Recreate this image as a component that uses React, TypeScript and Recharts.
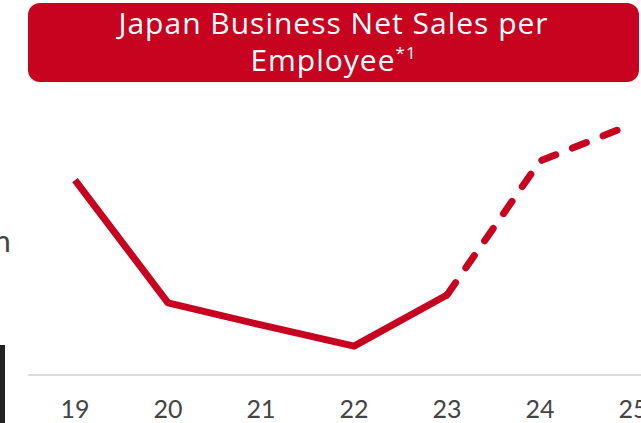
import { LineChart, Line, XAxis, YAxis } from 'recharts';

const years = ['19', '20', '21', '22', '23', '24', '25'];
const actual = [70.9, 26.2, 18.2, 10.5, 29.1, null, null];
const forecast = [null, null, null, null, 29.1, 77.8, 91.3];

const RED = '#c8031f';

const data = years.map((year, i) => ({ year, actual: actual[i], forecast: forecast[i] }));

export default function App() {
  return (
    <div style={{ position: 'fixed', left: 0, top: 0, width: 641, height: 423, background: '#fff', overflow: 'hidden' }}>
      <LineChart width={641} height={423} data={data} margin={{ top: 100, right: 0, bottom: 0, left: 28 }}>
        <XAxis
          dataKey="year"
          height={48}
          padding={{ left: 47, right: 8 }}
          axisLine={{ stroke: '#dcdcdc', strokeWidth: 2 }}
          tickLine={false}
          tickSize={0}
          tickMargin={25}
          tick={{ fill: '#444', fontSize: 25, fontFamily: 'Lato' }}
          interval={0}
        />
        <YAxis hide domain={[0, 100]} />
        <Line
          dataKey="actual"
          stroke={RED}
          strokeWidth={7}
          dot={false}
          strokeLinejoin="round"
          isAnimationActive={false}
        />
        <Line
          dataKey="forecast"
          stroke={RED}
          strokeWidth={7}
          strokeDasharray="15 18"
          strokeLinecap="round"
          strokeLinejoin="round"
          dot={false}
          isAnimationActive={false}
        />
      </LineChart>
      <div
        style={{
          position: 'absolute', left: 28, top: 3, width: 611, height: 79,
          background: RED, borderRadius: 12, color: '#fff', fontFamily: 'Open Sans',
          fontSize: 30, lineHeight: '37px', textAlign: 'center', paddingTop: 1, boxSizing: 'border-box',
          letterSpacing: 1,
        }}
      >
        Japan Business Net Sales per<br />Employee<sup style={{ fontSize: 17, verticalAlign: 'top', lineHeight: '24px' }}>*1</sup>
      </div>
      <div style={{ position: 'absolute', left: -6, top: 222, fontFamily: 'Lato', fontSize: 30, color: '#444' }}>n</div>
      <div style={{ position: 'absolute', left: 0, top: 345, width: 5, height: 78, background: '#222' }} />
    </div>
  );
}
